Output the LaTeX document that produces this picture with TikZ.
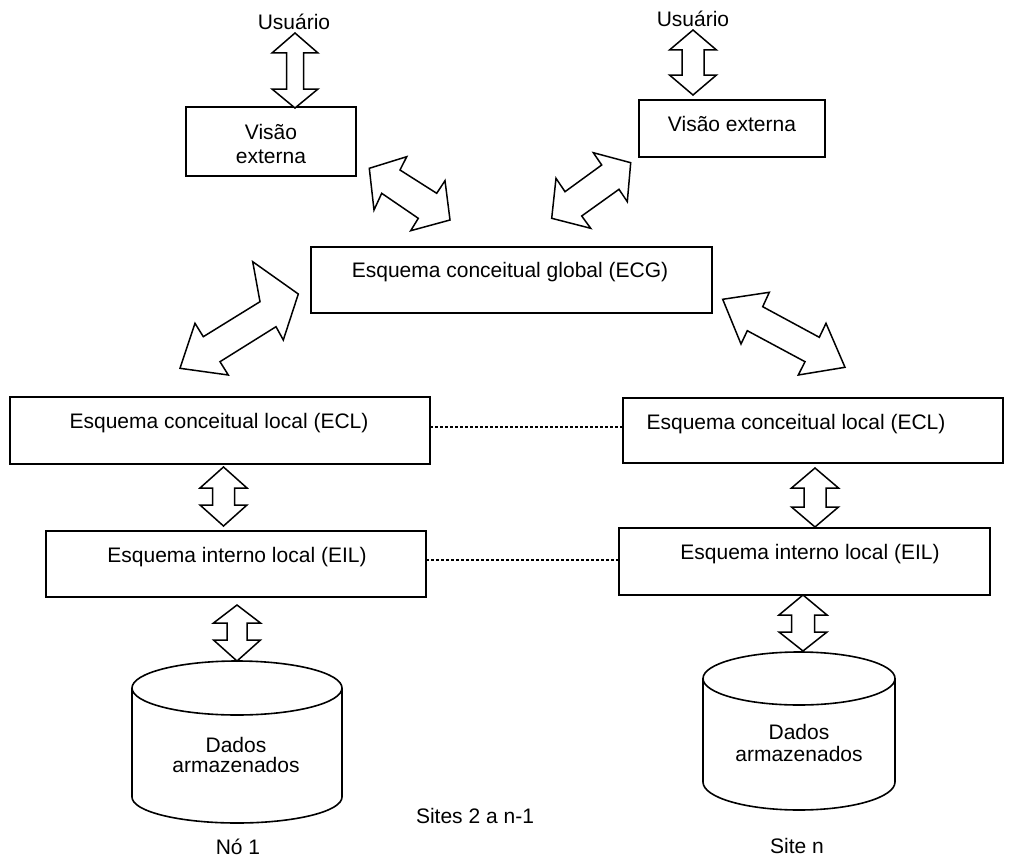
\documentclass[tikz,border=0pt]{standalone}
\usepackage{fontspec}
\setmainfont{Liberation Sans}
% two centred lines; the baseline of the node is that of the first line
\newcommand{\twoline}[3]{\begin{tabular}[t]{@{}c@{}}#1\\[#3]#2\end{tabular}}
\begin{document}
\begin{tikzpicture}[x=1pt,y=-1pt,
  every node/.style={font=\fontsize{21pt}{25.2pt}\selectfont, inner sep=0pt, outer sep=0pt},
  box/.style={draw, line width=1.8pt, rectangle},
  txt/.style={anchor=base},
  blockarrow/.style={draw, line width=1.5pt, fill=white, line join=miter},
  cylline/.style={draw, line width=1.6pt},
  dotline/.style={line width=2pt, dash pattern=on 2.5pt off 2.5pt}
]
\useasboundingbox (0,0) rectangle (1022,859);
\fill[white] (0,0) rectangle (1022,859);

% ---------- boxes ----------
\node[box, minimum width=170, minimum height=69] (vis1) at (271,141.5) {};
\node[box, minimum width=186, minimum height=57] (vis2) at (732,128.5) {};
\node[box, minimum width=401, minimum height=66] (ecg)  at (511.5,280) {};
\node[box, minimum width=420, minimum height=67] (ecl1) at (220,430.5) {};
\node[box, minimum width=380, minimum height=65] (ecl2) at (813,430.5) {};
\node[box, minimum width=380, minimum height=66] (eil1) at (236,564) {};
\node[box, minimum width=371, minimum height=67] (eil2) at (804.5,561.5) {};

% ---------- texts ----------
\node[txt] (usr1) at (294,30) {Usuário};
\node[txt] (usr2) at (693,27) {Usuário};
\node[txt] (tvis1) at (271,139) {\twoline{Visão}{externa}{-1.2pt}};
\node[txt] (tvis2) at (732,131) {Visão externa};
\node[txt] (tecg) at (510,277) {Esquema conceitual global (ECG)};
\node[txt] (tecl1) at (219,428) {Esquema conceitual local (ECL)};
\node[txt] (tecl2) at (796,429) {Esquema conceitual local (ECL)};
\node[txt] (teil1) at (237,562) {Esquema interno local (EIL)};
\node[txt] (teil2) at (810,559) {Esquema interno local (EIL)};
\node[txt] (no1) at (238,854.5) {Nó 1};
\node[txt] (sites) at (475,823) {Sites 2 a n-1};
\node[txt] (siten) at (797,853.5) {Site n};

% ---------- dotted links between the sites ----------
\draw[dotline] ([yshift=3.5pt]ecl1.east) -- ([yshift=3.5pt]ecl1.east -| ecl2.west);
\draw[dotline] ([yshift=4pt]eil1.east) -- ([yshift=4pt]eil1.east -| eil2.west);

% ---------- vertical block arrows ----------
% user <-> external view (left)
\draw[blockarrow] (295,33) -- (318,53) -- (303.5,53) -- (303.5,89) -- (318,89) -- (295,108)
  -- (272,89) -- (286.5,89) -- (286.5,53) -- (272,53) -- cycle;
% user <-> external view (right)
\draw[blockarrow] (693,30) -- (716.5,50) -- (704,50) -- (704,75) -- (716.5,75) -- (693,95)
  -- (669.5,75) -- (682,75) -- (682,50) -- (669.5,50) -- cycle;
% ECL <-> EIL (left)
\draw[blockarrow] (223.5,467) -- (247,488) -- (234.5,488) -- (234.5,505) -- (247,505) -- (223.5,526)
  -- (200,505) -- (212.5,505) -- (212.5,488) -- (200,488) -- cycle;
% ECL <-> EIL (right)
\draw[blockarrow] (815,468) -- (838.5,488) -- (826,488) -- (826,507) -- (838.5,507) -- (815,527)
  -- (791.5,507) -- (804,507) -- (804,488) -- (791.5,488) -- cycle;
% EIL <-> stored data (left)
\draw[blockarrow] (237,605) -- (260.5,623) -- (247,623) -- (247,640) -- (260.5,640) -- (237,661)
  -- (213.5,640) -- (227,640) -- (227,623) -- (213.5,623) -- cycle;
% EIL <-> stored data (right)
\draw[blockarrow] (803,595) -- (827,615) -- (814.5,615) -- (814.5,632) -- (827,632) -- (803,651)
  -- (779,632) -- (791.5,632) -- (791.5,615) -- (779,615) -- cycle;

% ---------- diagonal block arrows ----------
% external view (left) <-> ECG
\draw[blockarrow] (369.3,168.3) -- (406.7,156.7) -- (400,170) -- (436.7,193.3) -- (445,180.7)
  -- (450,220) -- (410.7,230.7) -- (418.3,218.3) -- (381.7,193.3) -- (374,210) -- cycle;
% external view (right) <-> ECG
\draw[blockarrow] (551.7,218.3) -- (556,178.3) -- (565,191.7) -- (601.7,165) -- (593.3,152.7)
  -- (630.7,162.7) -- (627.3,201.7) -- (619,189.3) -- (581.7,216) -- (590.7,228.3) -- cycle;
% ECG <-> ECL (left)
\draw[blockarrow] (180,368.3) -- (195,323.3) -- (203.3,336.7) -- (260,301.7) -- (252.7,261.7)
  -- (298.3,294) -- (283.3,340) -- (276,326.7) -- (220,361.7) -- (228.3,375) -- cycle;
% ECG <-> ECL (right)
\draw[blockarrow] (722.7,299.3) -- (769.3,292.3) -- (762.7,306.7) -- (819.3,337.3) -- (826,323.3)
  -- (845,367.3) -- (798.3,375) -- (805,361.7) -- (747.3,330.7) -- (741,344) -- cycle;

% ---------- stored data cylinders ----------
\draw[cylline] (237,688) ellipse [x radius=105, y radius=27];
\draw[cylline] (132,688) -- (132,797) .. controls (132,811.4) and (179,823) .. (237,823)
  .. controls (295,823) and (342,811.4) .. (342,797) -- (342,688);
\node[txt] (dados1) at (236,752) {\twoline{Dados}{armazenados}{-5.2pt}};

\draw[cylline] (799,678.5) ellipse [x radius=96, y radius=26.5];
\draw[cylline] (703,678.5) -- (703,782) .. controls (703,797.5) and (746,810) .. (799,810)
  .. controls (852,810) and (895,797.5) .. (895,782) -- (895,678.5);
\node[txt] (dados2) at (799,739) {\twoline{Dados}{armazenados}{-2.8pt}};
\end{tikzpicture}
\end{document}
